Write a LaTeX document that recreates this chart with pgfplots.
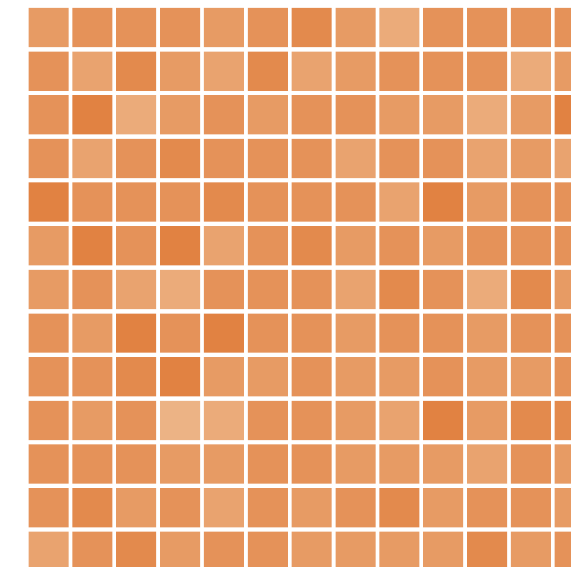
\documentclass[border=0pt]{standalone}
\usepackage{pgfplots}
\pgfplotsset{compat=1.18}
\pgfdeclareplotmark{tile}{%
  \pgfsetcornersarced{\pgfpoint{3.5pt}{3.5pt}}%
  \pgfpathmoveto{\pgfpoint{0pt}{-0.98\pgfplotmarksize}}%
  \pgfpathlineto{\pgfpoint{\pgfplotmarksize}{-0.98\pgfplotmarksize}}%
  \pgfpathlineto{\pgfpoint{\pgfplotmarksize}{0.98\pgfplotmarksize}}%
  \pgfpathlineto{\pgfpoint{-\pgfplotmarksize}{0.98\pgfplotmarksize}}%
  \pgfpathlineto{\pgfpoint{-\pgfplotmarksize}{-0.98\pgfplotmarksize}}%
  \pgfpathclose
  \pgfusepathqfill}
\begin{document}
\begin{tikzpicture}
\path[use as bounding box, fill=white] (0,0) rectangle (571pt,567pt);
\clip (0,0) rectangle (571pt,567pt);
\begin{axis}[
  at={(0,0)}, anchor=south west,
  scale only axis, width=600pt, height=567pt,
  xmin=0, xmax=600, ymin=0, ymax=567, y dir=reverse,
  hide axis, clip=true,
  colormap={tiles}{rgb255(0)=(240,196,155); rgb255(10)=(222,114,45)},
  point meta=explicit,
  point meta min=0, point meta max=10,
]
\addplot[scatter, only marks, mark=tile, mark size=20pt,
  scatter/use mapped color={draw=mapped color, fill=mapped color}]
  table[x=x, y=y, meta=c] {
x y c
48.5 27.5 5
92.4 27.5 6
136.2 27.5 6
180.1 27.5 6
223.9 27.5 5
267.8 27.5 6
311.6 27.5 7
355.5 27.5 5
399.3 27.5 3
443.2 27.5 6
487.0 27.5 6
530.9 27.5 6
574.7 27.5 6
48.5 71.2 6
92.4 71.2 4
136.2 71.2 7
180.1 71.2 5
223.9 71.2 4
267.8 71.2 7
311.6 71.2 4
355.5 71.2 5
399.3 71.2 6
443.2 71.2 6
487.0 71.2 6
530.9 71.2 3
574.7 71.2 5
48.5 114.8 6
92.4 114.8 8
136.2 114.8 3
180.1 114.8 5
223.9 114.8 6
267.8 114.8 5
311.6 114.8 6
355.5 114.8 6
399.3 114.8 5
443.2 114.8 5
487.0 114.8 3
530.9 114.8 5
574.7 114.8 8
48.5 158.5 6
92.4 158.5 4
136.2 158.5 6
180.1 158.5 7
223.9 158.5 6
267.8 158.5 6
311.6 158.5 6
355.5 158.5 4
399.3 158.5 6
443.2 158.5 6
487.0 158.5 4
530.9 158.5 5
574.7 158.5 4
48.5 202.1 8
92.4 202.1 6
136.2 202.1 6
180.1 202.1 6
223.9 202.1 7
267.8 202.1 6
311.6 202.1 6
355.5 202.1 6
399.3 202.1 4
443.2 202.1 8
487.0 202.1 5
530.9 202.1 6
574.7 202.1 6
48.5 245.8 5
92.4 245.8 8
136.2 245.8 6
180.1 245.8 8
223.9 245.8 4
267.8 245.8 6
311.6 245.8 7
355.5 245.8 5
399.3 245.8 6
443.2 245.8 5
487.0 245.8 6
530.9 245.8 6
574.7 245.8 6
48.5 289.4 5
92.4 289.4 6
136.2 289.4 4
180.1 289.4 3
223.9 289.4 6
267.8 289.4 6
311.6 289.4 6
355.5 289.4 4
399.3 289.4 7
443.2 289.4 6
487.0 289.4 3
530.9 289.4 7
574.7 289.4 5
48.5 333.1 6
92.4 333.1 5
136.2 333.1 8
180.1 333.1 6
223.9 333.1 8
267.8 333.1 6
311.6 333.1 6
355.5 333.1 5
399.3 333.1 6
443.2 333.1 6
487.0 333.1 5
530.9 333.1 6
574.7 333.1 6
48.5 376.7 6
92.4 376.7 6
136.2 376.7 7
180.1 376.7 8
223.9 376.7 5
267.8 376.7 5
311.6 376.7 6
355.5 376.7 5
399.3 376.7 5
443.2 376.7 6
487.0 376.7 5
530.9 376.7 5
574.7 376.7 6
48.5 420.4 6
92.4 420.4 5
136.2 420.4 6
180.1 420.4 2
223.9 420.4 3
267.8 420.4 6
311.6 420.4 6
355.5 420.4 5
399.3 420.4 4
443.2 420.4 8
487.0 420.4 5
530.9 420.4 7
574.7 420.4 7
48.5 464.0 6
92.4 464.0 6
136.2 464.0 6
180.1 464.0 5
223.9 464.0 5
267.8 464.0 6
311.6 464.0 6
355.5 464.0 5
399.3 464.0 5
443.2 464.0 5
487.0 464.0 4
530.9 464.0 6
574.7 464.0 5
48.5 507.7 6
92.4 507.7 7
136.2 507.7 5
180.1 507.7 6
223.9 507.7 4
267.8 507.7 6
311.6 507.7 5
355.5 507.7 6
399.3 507.7 7
443.2 507.7 5
487.0 507.7 6
530.9 507.7 6
574.7 507.7 5
48.5 551.3 4
92.4 551.3 6
136.2 551.3 7
180.1 551.3 5
223.9 551.3 6
267.8 551.3 6
311.6 551.3 5
355.5 551.3 5
399.3 551.3 5
443.2 551.3 5
487.0 551.3 7
530.9 551.3 5
574.7 551.3 6
};
\end{axis}
\end{tikzpicture}
\end{document}
